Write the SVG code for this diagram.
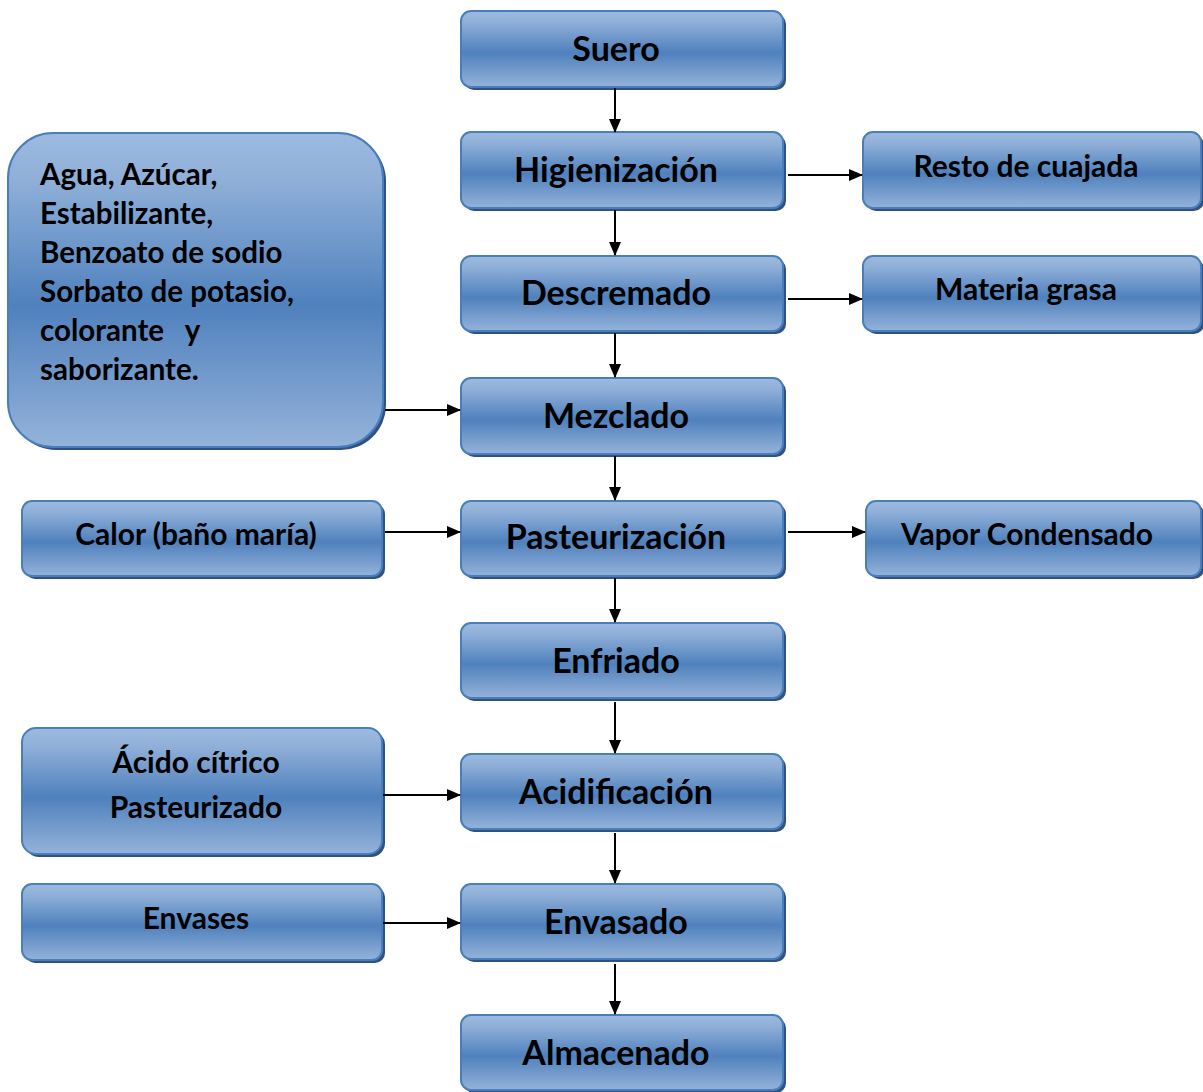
<svg xmlns="http://www.w3.org/2000/svg" width="1203" height="1092" viewBox="0 0 1203 1092">
  <defs>
    <linearGradient id="fill" x1="0" y1="0" x2="0" y2="1">
      <stop offset="0" stop-color="#9dbbe0"/>
      <stop offset="0.15" stop-color="#8fafd8"/>
      <stop offset="0.55" stop-color="#4f81bd"/>
      <stop offset="0.85" stop-color="#7ea2d0"/>
      <stop offset="1" stop-color="#94b3da"/>
    </linearGradient>
    <marker id="arrow" markerWidth="14" markerHeight="12" refX="13" refY="6" orient="auto" markerUnits="userSpaceOnUse">
      <path d="M0,0 L14,6 L0,12 Z" fill="#000"/>
    </marker>
  </defs>
  <style>
    .box { fill: url(#fill); stroke: #4a7ebb; stroke-width: 2; }
    .shadow { fill: #2f5282; }
    .main { font-family: Lato, "Open Sans", sans-serif; font-weight: bold; font-size: 34px; fill: #000; text-anchor: middle; }
    .side { font-family: Lato, "Open Sans", sans-serif; font-weight: bold; font-size: 30px; fill: #000; text-anchor: middle; }
    .list { font-family: Lato, "Open Sans", sans-serif; font-weight: bold; font-size: 29.5px; fill: #000; }
    .link { stroke: #000; stroke-width: 2; fill: none; marker-end: url(#arrow); }
  </style>

  <rect width="1203" height="1092" fill="#fff"/>

  <!-- process steps -->
  <g id="suero">
    <rect class="shadow" x="464" y="14" width="322" height="76" rx="10"/>
    <rect class="box" x="461" y="11" width="322" height="76" rx="10"/>
    <text class="main" x="616" y="61">Suero</text>
  </g>
  <g id="higienizacion">
    <rect class="shadow" x="464" y="135" width="322" height="76" rx="10"/>
    <rect class="box" x="461" y="132" width="322" height="76" rx="10"/>
    <text class="main" x="616" y="182">Higienización</text>
  </g>
  <g id="descremado">
    <rect class="shadow" x="464" y="259" width="322" height="75" rx="10"/>
    <rect class="box" x="461" y="256" width="322" height="75" rx="10"/>
    <text class="main" x="616" y="305">Descremado</text>
  </g>
  <g id="mezclado">
    <rect class="shadow" x="464" y="381" width="322" height="76" rx="10"/>
    <rect class="box" x="461" y="378" width="322" height="76" rx="10"/>
    <text class="main" x="616" y="428">Mezclado</text>
  </g>
  <g id="pasteurizacion">
    <rect class="shadow" x="464" y="504" width="322" height="75" rx="10"/>
    <rect class="box" x="461" y="501" width="322" height="75" rx="10"/>
    <text class="main" x="616" y="549">Pasteurización</text>
  </g>
  <g id="enfriado">
    <rect class="shadow" x="464" y="626" width="322" height="75" rx="10"/>
    <rect class="box" x="461" y="623" width="322" height="75" rx="10"/>
    <text class="main" x="616" y="673">Enfriado</text>
  </g>
  <g id="acidificacion">
    <rect class="shadow" x="464" y="757" width="322" height="75" rx="10"/>
    <rect class="box" x="461" y="754" width="322" height="75" rx="10"/>
    <text class="main" x="616" y="804">Acidificación</text>
  </g>
  <g id="envasado">
    <rect class="shadow" x="464" y="887" width="322" height="75" rx="10"/>
    <rect class="box" x="461" y="884" width="322" height="75" rx="10"/>
    <text class="main" x="616" y="934">Envasado</text>
  </g>
  <g id="almacenado">
    <rect class="shadow" x="464" y="1018" width="322" height="75" rx="10"/>
    <rect class="box" x="461" y="1015" width="322" height="75" rx="10"/>
    <text class="main" x="616" y="1065">Almacenado</text>
  </g>

  <!-- outputs -->
  <g id="resto-cuajada">
    <rect class="shadow" x="866" y="135" width="338" height="76" rx="10"/>
    <rect class="box" x="863" y="132" width="338" height="76" rx="10"/>
    <text class="side" x="1026" y="177">Resto de cuajada</text>
  </g>
  <g id="materia-grasa">
    <rect class="shadow" x="866" y="259" width="338" height="75" rx="10"/>
    <rect class="box" x="863" y="256" width="338" height="75" rx="10"/>
    <text class="side" x="1026" y="300">Materia grasa</text>
  </g>
  <g id="vapor-condensado">
    <rect class="shadow" x="869" y="504" width="335" height="75" rx="10"/>
    <rect class="box" x="866" y="501" width="335" height="75" rx="10"/>
    <text class="side" x="1027" y="545">Vapor Condensado</text>
  </g>

  <!-- inputs -->
  <g id="aditivos">
    <rect class="shadow" x="11" y="136" width="375" height="314" rx="45"/>
    <rect class="box" x="8" y="133" width="375" height="314" rx="45"/>
    <text class="list" x="40" y="185">Agua, Azúcar,</text>
    <text class="list" x="40" y="224">Estabilizante,</text>
    <text class="list" x="40" y="263">Benzoato de sodio</text>
    <text class="list" x="40" y="302">Sorbato de potasio,</text>
    <text class="list" x="40" y="341" xml:space="preserve">colorante   y</text>
    <text class="list" x="40" y="380">saborizante.</text>
  </g>
  <g id="calor">
    <rect class="shadow" x="25" y="504" width="360" height="75" rx="10"/>
    <rect class="box" x="22" y="501" width="360" height="75" rx="10"/>
    <text class="side" x="196" y="545">Calor (baño maría)</text>
  </g>
  <g id="acido-citrico">
    <rect class="shadow" x="25" y="731" width="360" height="126" rx="14"/>
    <rect class="box" x="22" y="728" width="360" height="126" rx="14"/>
    <text class="side" x="196" y="773">Ácido cítrico</text>
    <text class="side" x="196" y="818">Pasteurizado</text>
  </g>
  <g id="envases">
    <rect class="shadow" x="25" y="887" width="360" height="76" rx="10"/>
    <rect class="box" x="22" y="884" width="360" height="76" rx="10"/>
    <text class="side" x="196" y="929">Envases</text>
  </g>

  <!-- connectors -->
  <g id="connectors">
    <line class="link" x1="615" y1="88" x2="615" y2="132"/>
    <line class="link" x1="615" y1="210" x2="615" y2="255"/>
    <line class="link" x1="615" y1="333" x2="615" y2="377"/>
    <line class="link" x1="615" y1="456" x2="615" y2="500"/>
    <line class="link" x1="615" y1="578" x2="615" y2="622"/>
    <line class="link" x1="615" y1="702" x2="615" y2="753"/>
    <line class="link" x1="615" y1="833" x2="615" y2="883"/>
    <line class="link" x1="615" y1="964" x2="615" y2="1014"/>
    <line class="link" x1="788" y1="175" x2="862" y2="175"/>
    <line class="link" x1="788" y1="299" x2="862" y2="299"/>
    <line class="link" x1="788" y1="532" x2="865" y2="532"/>
    <line class="link" x1="385" y1="410" x2="460" y2="410"/>
    <line class="link" x1="385" y1="532" x2="460" y2="532"/>
    <line class="link" x1="383" y1="795" x2="460" y2="795"/>
    <line class="link" x1="383" y1="923" x2="460" y2="923"/>
  </g>
</svg>
